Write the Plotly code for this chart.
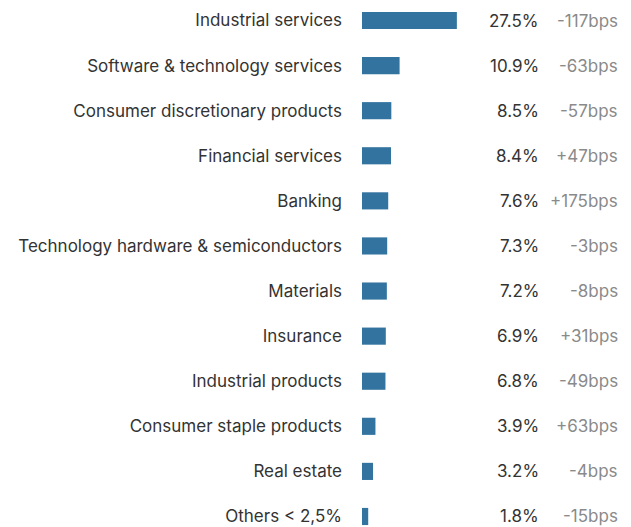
import plotly.graph_objects as go

categories = [
    "Industrial services",
    "Software & technology services",
    "Consumer discretionary products",
    "Financial services",
    "Banking",
    "Technology hardware & semiconductors",
    "Materials",
    "Insurance",
    "Industrial products",
    "Consumer staple products",
    "Real estate",
    "Others < 2,5%",
]
weights = [27.5, 10.9, 8.5, 8.4, 7.6, 7.3, 7.2, 6.9, 6.8, 3.9, 3.2, 1.8]
change_bps = [-117, -63, -57, 47, 175, -3, -8, 31, -49, 63, -4, -15]

# page body has an 8px margin; work in figure coordinates
OFF = 8
W, H = 631 - OFF, 527 - OFF
PLOT_LEFT = 362 - OFF
PX_PER_PCT = 3.45
ROW_PX = 45.09
FIRST_ROW_PX = 20.5 - OFF

plot_w = W - PLOT_LEFT
x_max = plot_w / PX_PER_PCT
y_top = -FIRST_ROW_PX / ROW_PX
y_bottom = y_top + H / ROW_PX

ypos = list(range(len(categories)))
FONT = "Inter, Roboto, sans-serif"
FS = 17

fig = go.Figure(
    go.Bar(
        x=weights,
        y=ypos,
        orientation="h",
        width=0.38,
        marker=dict(color="#33739f", line=dict(width=0)),
        hoverinfo="skip",
    )
)

val_x = (541 - OFF - PLOT_LEFT) / plot_w
bps_x = (620 - OFF - PLOT_LEFT) / plot_w
for i, (w, b) in enumerate(zip(weights, change_bps)):
    fig.add_annotation(
        x=val_x, xref="paper", y=i, yref="y",
        text=f"{w:.1f}%", showarrow=False, xanchor="right", yanchor="middle",
        font=dict(family=FONT, size=FS, color="#333333"),
    )
    sign = "+" if b > 0 else "-"
    fig.add_annotation(
        x=bps_x, xref="paper", y=i, yref="y",
        text=f"{sign}{abs(b)}bps", showarrow=False, xanchor="right", yanchor="middle",
        font=dict(family=FONT, size=FS, color="#8a8a8a"),
    )

fig.update_layout(
    width=W, height=H,
    margin=dict(l=PLOT_LEFT, r=0, t=0, b=0, pad=0),
    paper_bgcolor="white", plot_bgcolor="white",
    showlegend=False,
    font=dict(family=FONT, size=FS, color="#333333"),
    xaxis=dict(range=[0, x_max], visible=False, fixedrange=True),
    yaxis=dict(
        range=[y_bottom, y_top],
        tickmode="array", tickvals=ypos, ticktext=categories,
        showgrid=False, zeroline=False, showline=False, ticks="",
        ticklabelstandoff=19, automargin=False,
        tickfont=dict(family=FONT, size=FS, color="#333333"),
    ),
)

fig.write_html("out.html")
